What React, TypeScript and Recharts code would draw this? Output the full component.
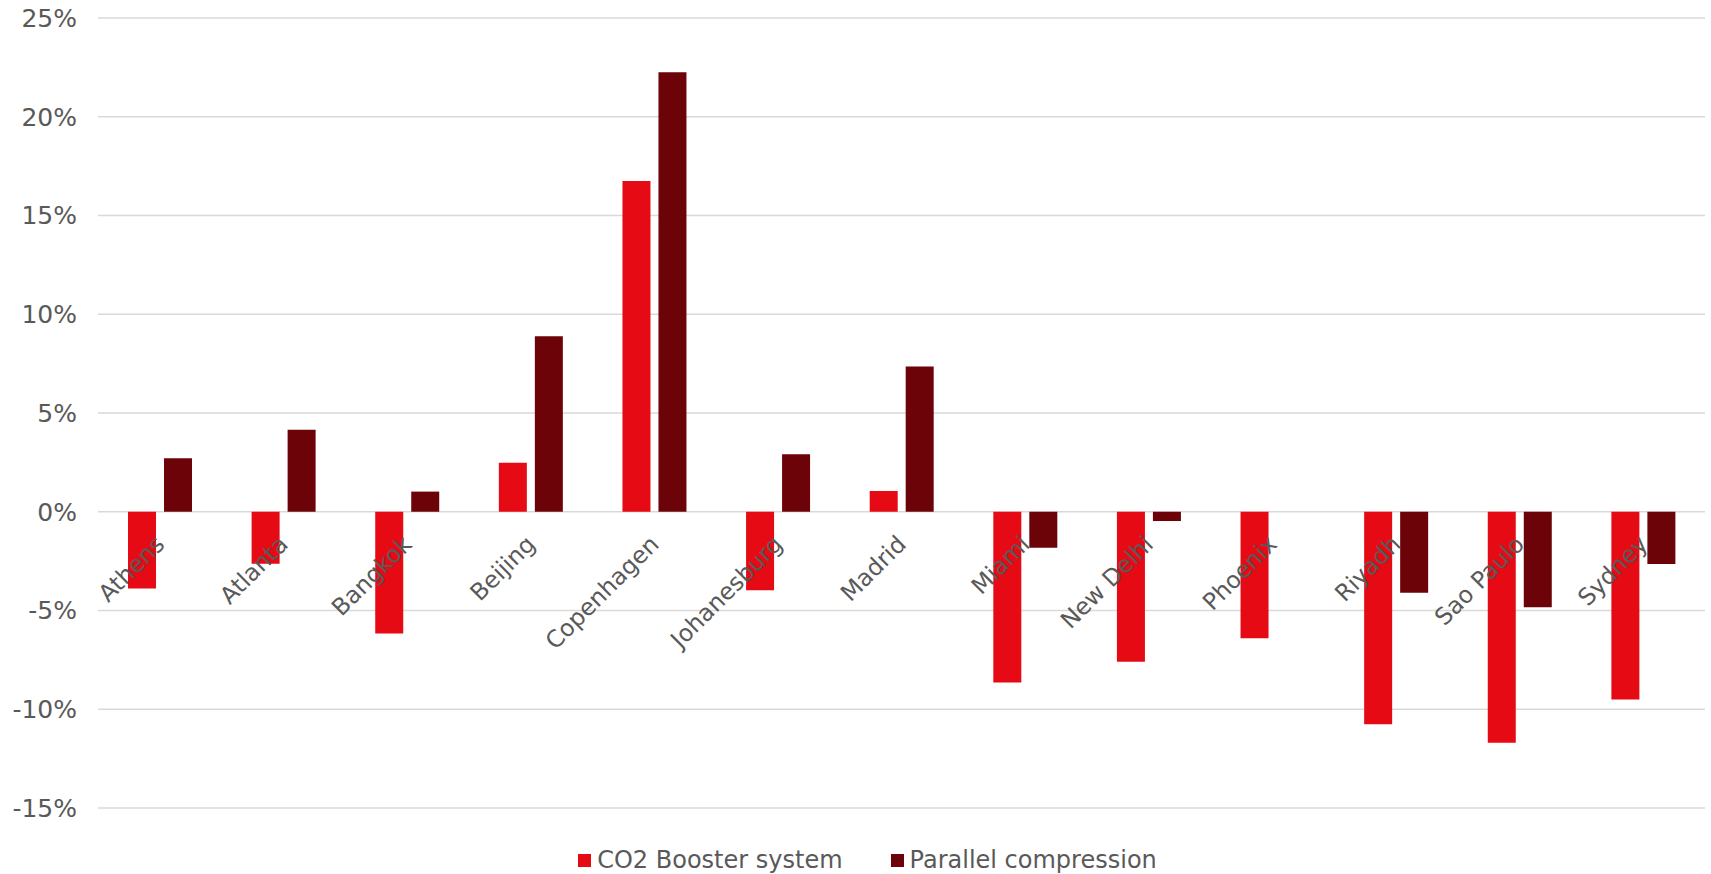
import { BarChart, Bar, XAxis, YAxis, CartesianGrid, Legend } from "recharts";

const cities = [
  "Athens", "Atlanta", "Bangkok", "Beijing", "Copenhagen", "Johanesburg", "Madrid",
  "Miami", "New Delhi", "Phoenix", "Riyadh", "Sao Paulo", "Sydney",
];
const boosterPct = [-3.88, -2.63, -6.16, 2.48, 16.75, -3.98, 1.05, -8.65, -7.59, -6.41, -10.76, -11.69, -9.5];
const parallelPct = [2.71, 4.15, 1.02, 8.88, 22.25, 2.91, 7.36, -1.82, -0.47, null, -4.1, -4.84, -2.65];
const yTicks = [-15, -10, -5, 0, 5, 10, 15, 20, 25];

const W = 1711;
const H = 874;
const X_AXIS_H = 2;
const MARGIN = { top: 18, right: 6, bottom: 36 - X_AXIS_H, left: 0 };
const LEGEND_H = 30;
const Y_MIN = -15;
const Y_MAX = 25;
const PLOT_BOTTOM = H - MARGIN.bottom - X_AXIS_H - LEGEND_H;
// y pixel of the 0% line, where Excel puts the category labels
const ZERO_Y = MARGIN.top + ((PLOT_BOTTOM - MARGIN.top) * Y_MAX) / (Y_MAX - Y_MIN);

const FONT = "'DejaVu Sans', Verdana, sans-serif";
const TEXT = "#595959";

const data = cities.map((city, i) => ({
  city,
  "CO2 Booster system": boosterPct[i],
  "Parallel compression": parallelPct[i],
}));

function CityTick(props: any) {
  const { x, payload } = props;
  const px = Number(x) + 6;
  const py = ZERO_Y + 34;
  return (
    <text x={px} y={py} transform={`rotate(-45, ${px}, ${py})`} textAnchor="end"
      fontSize={23.5} fill={TEXT} fontFamily={FONT}>
      {payload.value}
    </text>
  );
}

function LegendContent({ payload }: any) {
  return (
    <div style={{ display: "flex", justifyContent: "center", alignItems: "center", height: LEGEND_H,
      paddingLeft: 24, fontFamily: FONT, fontSize: 24, color: TEXT }}>
      {(payload || []).map((p: any, i: number) => (
        <span key={p.value} style={{ display: "flex", alignItems: "center", marginLeft: i ? 48 : 0 }}>
          <span style={{ width: 13, height: 13, background: p.color, marginRight: 6, display: "inline-block" }} />
          {p.value}
        </span>
      ))}
    </div>
  );
}

export default function App() {
  return (
    <div style={{ position: "absolute", left: 0, top: 0, background: "#fff" }}>
      <BarChart width={W} height={H} data={data} margin={MARGIN} barCategoryGap={30} barGap={8}>
        <CartesianGrid vertical={false} stroke="#d9d9d9" strokeWidth={1.5} />
        <XAxis dataKey="city" height={X_AXIS_H} axisLine={false} tickLine={false} interval={0}
          tick={(p: any) => <CityTick {...p} />} />
        <YAxis width={98} domain={[Y_MIN, Y_MAX]} ticks={yTicks} axisLine={false} tickLine={false}
          tickSize={0} tickMargin={21} tickFormatter={(v) => `${v}%`}
          tick={{ fontSize: 25, fill: TEXT, fontFamily: FONT }} />
        <Legend verticalAlign="bottom" content={<LegendContent />}
          wrapperStyle={{ top: 845, bottom: "auto", left: 0, width: W }} />
        <Bar dataKey="CO2 Booster system" fill="#e50a14" isAnimationActive={false} />
        <Bar dataKey="Parallel compression" fill="#6b0309" isAnimationActive={false} />
      </BarChart>
    </div>
  );
}
